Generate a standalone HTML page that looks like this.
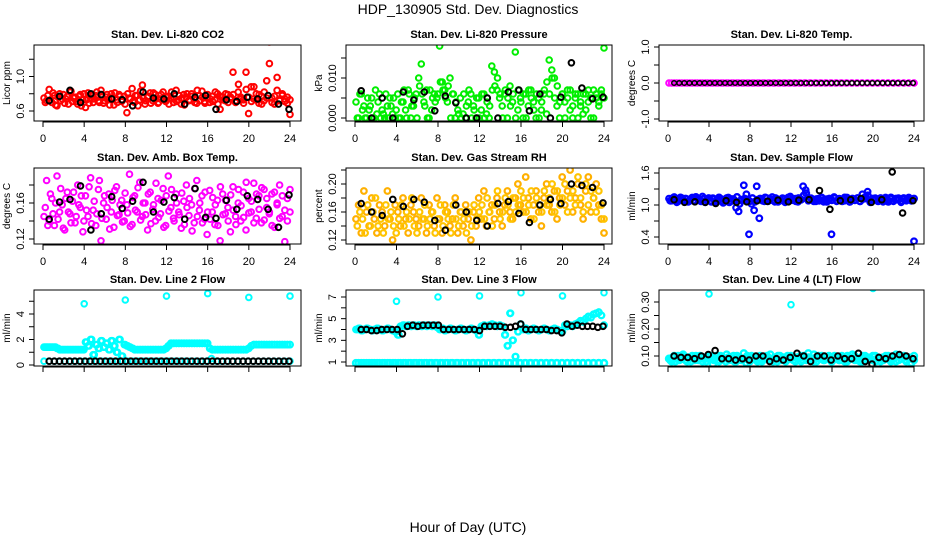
<!DOCTYPE html>
<html><head><meta charset="utf-8">
<style>
body{margin:0;background:#fff;}
svg{display:block;font-family:"Liberation Sans",Arial,sans-serif;}
</style></head>
<body>
<svg id="c" width="936" height="540" viewBox="0 0 936 540">
<rect width="936" height="540" fill="#fff"/>
<text x="468" y="14" font-size="14" text-anchor="middle">HDP_130905  Std. Dev. Diagnostics</text>
<text x="468" y="532" font-size="14" text-anchor="middle">Hour of Day (UTC)</text>
</svg>
<script>
const xTicks=[0,4,8,12,16,20,24];
// Panel 1 CO2
const co2Main=[0.75,0.72,0.85,0.70,0.78,0.66,0.80,0.74,0.69,0.77,0.82,0.71,0.76,0.68,0.79,0.73,0.64,0.81,0.75,0.70,0.78,0.72,0.84,0.69,0.76,0.74,0.80,0.67,0.73,0.79,0.71,0.77,0.58,0.75,0.86,0.70,0.78,0.73,0.90,0.68,0.76,0.81,0.72,0.79,0.69,0.74,0.82,0.71,0.77,0.75,0.70,0.84,0.73,0.68,0.79,0.76,0.72,0.80,0.74,0.69,0.78,0.83,0.71,0.75,0.70,0.77,0.73,0.80,0.62,0.76,0.72,0.79,0.74,1.05,0.70,0.82,0.76,0.73,1.05,0.57,0.88,0.74,0.80,0.69,0.77,0.72,0.95,1.40,0.75,0.68,0.99,0.73,0.78,0.71,0.76,0.56];
const co2Main2=[0.70,0.78,0.73,0.81,0.67,0.76,0.72,0.79,0.74,0.68,0.83,0.75,0.71,0.77,0.66,0.80,0.73,0.69,0.78,0.74,0.82,0.70,0.76,0.72,0.79,0.67,0.75,0.81,0.70,0.77,0.73,0.68,0.80,0.74,0.71,0.78,0.66,0.83,0.75,0.72,0.77,0.69,0.81,0.74,0.70,0.79,0.73,0.76,0.68,0.82,0.74,0.71,0.78,0.75,0.67,0.80,0.73,0.77,0.70,0.84,0.72,0.76,0.69,0.79,0.74,0.71,0.82,0.68,0.77,0.73,0.80,0.70,0.76,0.79,0.72,0.91,0.74,0.69,0.85,0.76,0.71,0.88,0.73,0.79,0.68,0.82,0.75,1.15,0.70,0.77,0.84,0.72,0.80,0.74,0.69,0.73];
const co2Black=[0.72,0.77,0.84,0.70,0.80,0.79,0.74,0.73,0.66,0.82,0.75,0.74,0.80,0.68,0.76,0.78,0.62,0.73,0.71,0.76,0.74,0.78,0.68,0.62];
// Panel 2 Pressure
const presMain=[0.004,0,0.006,0.003,0,0.002,0.005,0,0.001,0.006,0.002,0,0.003,0.005,0.001,0,0.006,0,0.004,0.002,0.007,0,0.003,0.006,0.010,0.0135,0.004,0.007,0,0.002,0.006,0.005,0.018,0.009,0.007,0.004,0.010,0.006,0,0.002,0.005,0.001,0,0.004,0.006,0.003,0,0.005,0.002,0.006,0.001,0,0.013,0.0115,0.007,0.005,0.003,0.006,0,0.008,0.004,0.0165,0.002,0.005,0,0.006,0.003,0.007,0.004,0,0.005,0.002,0.006,0.001,0.0145,0.012,0.010,0.003,0,0.006,0.004,0.007,0.002,0,0.005,0.006,0.003,0.001,0.006,0.004,0,0.007,0.005,0.003,0.006,0.0175];
const presMain2=[0,0.006,0.002,0,0.005,0.003,0,0.007,0.004,0,0.001,0.006,0,0.003,0.005,0.002,0,0.004,0.007,0,0.006,0.003,0.005,0,0.008,0.006,0.003,0,0.007,0.005,0.004,0.006,0.009,0.007,0.005,0.008,0,0.006,0.004,0.001,0,0.006,0.003,0.007,0,0.002,0.005,0,0.006,0,0.004,0.003,0.007,0.008,0.010,0.006,0,0.007,0.005,0.003,0.006,0,0.007,0.004,0.006,0,0.007,0.005,0.002,0.006,0,0.004,0.007,0.009,0.006,0.010,0.005,0.008,0.004,0.006,0,0.005,0.007,0.003,0.006,0,0.004,0.006,0.002,0.007,0.005,0,0.006,0.004,0.007,0.005];
const presBlack=[0.0068,0,0.005,0,0.0065,0.0045,0.0065,0.0018,0.0055,0.0038,0,0,0.005,0,0.0065,0.007,0.0018,0.006,0,0.0052,0.0138,0.0075,0.0048,0.0052];
// Panel 3 Temp
const tempMain=[0,0,0,0,0,0,0,0,0,0,0,0,0,0,0,0,0,0,0,0,0,0,0,0,0,0,0,0,0,0,0,0,0,0,0,0,0,0,0,0,0,0,0,0,0,0,0,0];
const tempBlack=[0,0,0,0,0,0,0,0,0,0,0,0,0,0,0,0,0,0,0,0,0,0,0,0,0,0,0,0,0,0,0,0,0,0,0,0,0,0,0,0,0,0,0,0,0,0,0,0];
// Panel 4 Amb box temp
const ambMain=[0.145,0.185,0.140,0.165,0.135,0.190,0.150,0.158,0.130,0.172,0.148,0.162,0.138,0.180,0.155,0.128,0.168,0.145,0.188,0.152,0.135,0.175,0.118,0.160,0.142,0.170,0.150,0.133,0.178,0.147,0.163,0.140,0.158,0.192,0.136,0.168,0.150,0.183,0.145,0.160,0.130,0.172,0.153,0.140,0.165,0.148,0.176,0.135,0.190,0.155,0.143,0.170,0.150,0.132,0.162,0.180,0.146,0.158,0.138,0.185,0.152,0.168,0.142,0.125,0.174,0.150,0.136,0.163,0.118,0.170,0.148,0.155,0.128,0.178,0.145,0.160,0.140,0.172,0.130,0.165,0.150,0.182,0.143,0.168,0.138,0.175,0.155,0.148,0.170,0.133,0.160,0.180,0.145,0.117,0.165,0.150];
const ambMain2=[0.155,0.135,0.170,0.148,0.160,0.142,0.176,0.132,0.165,0.150,0.138,0.172,0.145,0.158,0.168,0.140,0.152,0.178,0.137,0.162,0.148,0.185,0.143,0.168,0.155,0.131,0.163,0.174,0.146,0.158,0.139,0.171,0.149,0.134,0.166,0.152,0.177,0.141,0.160,0.147,0.170,0.137,0.158,0.182,0.144,0.163,0.133,0.168,0.151,0.175,0.140,0.160,0.147,0.171,0.136,0.155,0.165,0.129,0.176,0.145,0.160,0.138,0.172,0.150,0.142,0.166,0.158,0.135,0.178,0.147,0.163,0.140,0.169,0.152,0.136,0.175,0.157,0.144,0.183,0.149,0.162,0.138,0.170,0.153,0.177,0.141,0.165,0.150,0.135,0.172,0.158,0.143,0.168,0.152,0.140,0.175];
const ambBlack=[0.142,0.161,0.164,0.179,0.130,0.148,0.167,0.154,0.162,0.183,0.150,0.161,0.166,0.142,0.176,0.144,0.143,0.163,0.153,0.168,0.164,0.153,0.133,0.169];
// Panel 5 RH
const rhMain=[0.15,0.17,0.13,0.19,0.16,0.14,0.18,0.15,0.13,0.17,0.16,0.14,0.19,0.15,0.12,0.17,0.16,0.14,0.18,0.15,0.13,0.17,0.16,0.15,0.14,0.18,0.15,0.13,0.17,0.16,0.14,0.18,0.15,0.13,0.17,0.16,0.14,0.15,0.18,0.13,0.16,0.14,0.17,0.15,0.12,0.16,0.14,0.18,0.15,0.19,0.14,0.16,0.17,0.15,0.18,0.16,0.14,0.17,0.19,0.16,0.15,0.18,0.20,0.17,0.16,0.21,0.18,0.15,0.17,0.19,0.16,0.14,0.18,0.20,0.17,0.16,0.19,0.15,0.18,0.21,0.17,0.19,0.22,0.16,0.18,0.20,0.17,0.15,0.19,0.21,0.16,0.18,0.20,0.17,0.15,0.13];
const rhMain2=[0.14,0.16,0.15,0.13,0.17,0.14,0.16,0.18,0.14,0.15,0.13,0.17,0.15,0.16,0.14,0.13,0.15,0.17,0.14,0.16,0.15,0.18,0.14,0.13,0.16,0.15,0.17,0.14,0.15,0.16,0.13,0.15,0.17,0.14,0.16,0.15,0.13,0.17,0.15,0.14,0.16,0.15,0.13,0.16,0.14,0.17,0.15,0.16,0.17,0.15,0.18,0.16,0.14,0.17,0.19,0.15,0.16,0.18,0.17,0.15,0.18,0.16,0.17,0.19,0.18,0.16,0.17,0.19,0.15,0.18,0.17,0.16,0.19,0.17,0.18,0.20,0.16,0.19,0.17,0.18,0.20,0.16,0.18,0.19,0.17,0.21,0.18,0.16,0.20,0.17,0.19,0.18,0.16,0.19,0.17,0.15];
const rhBlack=[0.172,0.160,0.155,0.178,0.168,0.178,0.174,0.148,0.134,0.170,0.160,0.148,0.140,0.172,0.175,0.158,0.145,0.170,0.178,0.172,0.200,0.198,0.195,0.173];
// Panel 6 Sample flow
const sfMain=[1.12,1.08,1.15,1.05,1.10,1.13,1.06,1.11,1.09,1.14,1.07,1.12,1.10,1.16,1.05,1.11,1.08,1.13,1.06,1.10,1.12,1.04,1.09,1.14,1.07,1.11,0.95,0.88,1.10,1.37,1.20,0.45,1.02,0.90,1.35,0.75,1.10,1.07,1.13,1.09,1.15,1.06,1.11,1.08,1.13,1.05,1.10,1.16,1.09,1.12,1.06,1.11,1.35,1.28,1.08,1.13,1.10,1.07,1.12,1.14,1.06,1.11,1.09,0.45,1.15,1.07,1.12,1.10,1.08,1.14,1.06,1.11,1.09,1.13,1.07,1.20,1.12,1.25,1.05,1.10,1.13,1.08,1.11,1.06,1.14,1.09,1.12,1.07,1.10,1.13,1.05,1.11,1.08,1.14,1.10,0.32];
const sfMain2=[1.08,1.13,1.10,1.07,1.14,1.09,1.12,1.06,1.11,1.08,1.15,1.10,1.07,1.12,1.09,1.13,1.06,1.11,1.08,1.14,1.07,1.10,1.13,1.05,1.11,1.09,1.15,1.02,1.08,1.12,1.10,1.07,1.13,1.06,1.10,1.12,1.08,1.14,1.07,1.11,1.09,1.13,1.06,1.10,1.12,1.08,1.14,1.09,1.11,1.07,1.13,1.10,1.18,1.22,1.09,1.12,1.07,1.11,1.08,1.14,1.10,1.06,1.12,1.09,1.13,1.08,1.11,1.07,1.14,1.10,1.06,1.12,1.09,1.13,1.07,1.11,1.15,1.18,1.08,1.12,1.10,1.07,1.13,1.09,1.11,1.06,1.14,1.08,1.12,1.10,1.07,1.13,1.09,1.11,1.08,1.12];
const sfBlack=[1.10,1.05,1.06,1.05,1.03,1.08,1.05,1.06,1.08,1.07,1.09,1.06,1.09,1.10,1.27,0.92,1.08,1.10,1.12,1.05,1.10,1.62,0.85,1.08];
// Panel 7 Line 2
const l2Main=[1.4,1.4,1.4,1.4,1.4,1.3,1.2,1.2,1.2,1.2,1.2,1.2,1.2,1.2,1.2,1.2,1.8,1.5,2.0,0.8,1.6,1.3,1.9,1.4,1.7,1.2,1.9,1.5,1.0,2.0,0.7,1.6,1.5,1.4,1.3,1.2,1.2,1.2,1.2,1.2,1.2,1.2,1.2,1.2,1.2,1.2,1.2,1.3,1.5,1.7,1.7,1.7,1.7,1.7,1.7,1.7,1.7,1.7,1.7,1.7,1.7,1.7,1.7,1.7,1.3,1.2,1.2,1.2,1.2,1.2,1.2,1.2,1.2,1.2,1.2,1.2,1.2,1.2,1.2,1.3,1.5,1.6,1.6,1.6,1.6,1.6,1.6,1.6,1.6,1.6,1.6,1.6,1.6,1.6,1.6,1.6];
const l2Low=[0.3,0.3,0.3,0.3,0.3,0.3,0.3,0.3,0.3,0.3,0.3,0.3,0.3,0.3,0.3,0.3,0.3,0.3,0.3,0.3,0.3,0.3,0.3,0.3,0.3,0.3,0.3,0.3,0.3,0.3,0.3,0.3,0.5,0.3,0.3,0.3,0.3,0.3,0.3,0.3,0.3,0.3,0.3,0.3,0.3,0.3,0.3,0.3];
const l2Black=[0.3,0.3,0.3,0.3,0.3,0.3,0.3,0.3,0.3,0.3,0.3,0.3,0.3,0.3,0.3,0.3,0.3,0.3,0.3,0.3,0.3,0.3,0.3,0.3,0.3,0.3,0.3,0.3,0.3,0.3,0.3,0.3,0.3,0.3,0.3,0.3,0.3,0.3,0.3,0.3,0.3,0.3,0.3,0.3,0.3,0.3,0.3,0.3];
const l2OutHours=[4,8,12,16,20,24];
const l2Out=[4.8,5.1,5.4,5.6,5.3,5.4];
// Panel 8 Line 3
const l3Main=[4.0,4.1,3.9,4.0,4.1,4.0,3.9,4.0,4.1,4.0,3.9,4.0,4.1,4.0,3.9,3.8,3.5,4.3,4.4,4.3,4.4,4.3,4.4,4.3,4.4,4.3,4.4,4.3,4.4,4.3,4.4,4.2,4.0,4.1,3.9,4.0,4.1,4.0,3.9,4.0,4.1,4.0,3.9,4.0,4.1,4.0,3.9,3.5,4.3,4.4,4.3,4.4,4.5,4.4,4.3,4.4,4.3,3.5,2.5,5.5,3.0,1.5,3.8,4.5,4.0,4.1,3.9,4.0,4.1,4.0,3.9,4.0,4.1,4.0,3.9,4.0,4.1,4.0,3.9,3.8,4.4,4.3,4.4,4.3,4.5,4.6,4.8,4.7,5.0,5.2,5.1,5.4,5.5,5.6,5.3,4.4];
const l3Low=[0.9,0.9,0.9,0.9,0.9,0.9,0.9,0.9,0.9,0.9,0.9,0.9,0.9,0.9,0.9,0.9,0.9,0.9,0.9,0.9,0.9,0.9,0.9,0.9,0.9,0.9,0.9,0.9,0.9,0.9,0.9,0.9,0.9,0.9,0.9,0.9,0.9,0.9,0.9,0.9,0.9,0.9,0.9,0.9,0.9,0.9,0.9,0.9];
const l3Black=[4.0,4.0,3.9,3.9,4.0,4.0,4.0,4.0,3.6,4.3,4.4,4.3,4.4,4.4,4.4,4.4,4.0,4.0,4.0,4.0,4.0,4.0,4.0,3.9,4.3,4.3,4.3,4.3,4.2,4.2,4.3,4.5,4.0,4.0,4.0,4.0,4.0,3.9,3.9,3.7,4.5,4.3,4.4,4.3,4.3,4.3,4.2,4.3];
const l3OutHours=[4,8,12,16,20,24];
const l3Out=[6.6,7.0,7.1,7.4,7.1,7.4];
// Panel 9 Line 4
const l4Main=[0.09,0.08,0.10,0.09,0.085,0.10,0.095,0.08,0.09,0.10,0.085,0.09,0.10,0.08,0.095,0.09,0.10,0.07,0.09,0.085,0.10,0.09,0.08,0.095,0.09,0.10,0.08,0.09,0.085,0.11,0.075,0.09,0.10,0.09,0.085,0.095,0.08,0.09,0.10,0.085,0.09,0.095,0.08,0.10,0.09,0.085,0.10,0.09,0.095,0.08,0.09,0.10,0.085,0.09,0.11,0.09,0.08,0.095,0.10,0.09,0.085,0.09,0.10,0.08,0.09,0.095,0.085,0.10,0.09,0.08,0.095,0.09,0.10,0.085,0.09,0.08,0.10,0.095,0.09,0.085,0.10,0.09,0.08,0.095,0.09,0.10,0.085,0.09,0.08,0.10,0.09,0.095,0.085,0.09,0.075,0.10];
const l4Main2=[0.085,0.095,0.08,0.10,0.09,0.105,0.085,0.095,0.08,0.09,0.10,0.085,0.095,0.09,0.08,0.10,0.09,0.085,0.10,0.08,0.095,0.09,0.105,0.085,0.09,0.08,0.10,0.095,0.085,0.09,0.10,0.08,0.095,0.09,0.08,0.10,0.085,0.095,0.09,0.105,0.08,0.09,0.10,0.085,0.095,0.08,0.09,0.10,0.085,0.095,0.09,0.08,0.10,0.085,0.095,0.09,0.105,0.08,0.09,0.10,0.085,0.095,0.09,0.08,0.10,0.09,0.085,0.095,0.08,0.10,0.09,0.105,0.085,0.09,0.08,0.10,0.095,0.085,0.09,0.10,0.08,0.095,0.09,0.085,0.10,0.09,0.08,0.095,0.105,0.085,0.09,0.10,0.08,0.095,0.09,0.085];
const l4Black=[0.10,0.095,0.095,0.09,0.10,0.105,0.12,0.09,0.09,0.085,0.09,0.085,0.10,0.10,0.08,0.09,0.085,0.095,0.11,0.10,0.08,0.10,0.10,0.085,0.10,0.09,0.09,0.11,0.08,0.07,0.095,0.09,0.10,0.105,0.10,0.09];
const l4OutHours=[4,12,20];
const l4Out=[0.33,0.29,0.35];

const NS="http://www.w3.org/2000/svg";
const svg=document.getElementById('c');
function mk(tag,attrs,parent){const e=document.createElementNS(NS,tag);for(const k in attrs)e.setAttribute(k,attrs[k]);(parent||svg).appendChild(e);return e;}

const cols=[{l:34,r:301,x0:43,x24:290},{l:346,r:612,x0:355,x24:604},{l:659,r:924,x0:668,x24:914}];
const rows=[{t:45,b:121},{t:168,b:244},{t:290,b:366}];

function panel(cfg){
  const c=cols[cfg.col],r=rows[cfg.row];
  const g=mk('g',{});
  
  
  const xs=h=>c.x0+(c.x24-c.x0)*h/24;
  const [v1,p1,v2,p2]=cfg.ymap;
  const ys=v=>p1+(p2-p1)*(v-v1)/(v2-v1);
  const title=mk('text',{x:(c.l+c.r)/2,y:r.t-7,'font-size':11,'font-weight':'bold','text-anchor':'middle'},g);
  title.textContent=cfg.title;
  
  
  const cid='clip'+cfg.row+cfg.col;
  const cp=mk('clipPath',{id:cid},g);mk('rect',{x:c.l,y:r.t,width:c.r-c.l,height:r.b-r.t},cp);
  const pts=mk('g',{'clip-path':'url(#'+cid+')'},g);
  function series(vals,color,hourFn,sw,rad){
    const sg=mk('g',{},pts);
    
    
    vals.forEach((v,i)=>{
      const h=hourFn(i,vals.length);
      const ci=mk('circle',{cx:xs(h).toFixed(1),cy:ys(v).toFixed(1),r:rad||2.8,fill:'none',stroke:color,'stroke-width':sw||2},sg);
      
      
    });
  }
  cfg.series.forEach(s=>{
    const off=s.off||0;
    let fn;
    if(s.hours) fn=(i)=>s.hours[i];
    else if(s.black) fn=(i,n)=>0.6+i*23.3/(n-1);
    else fn=(i,n)=>0.1+off+i*(23.9-off)/(n-1);
    series(s.vals,s.color,fn,s.sw,s.r);
  });
  const bx=mk('rect',{x:c.l,y:r.t,width:c.r-c.l,height:r.b-r.t,fill:'none',stroke:'#000','stroke-width':1},g);
  
  
  const xa=mk('g',{stroke:'#000','stroke-width':1},g);
  
  
  mk('line',{x1:xs(0),x2:xs(24),y1:r.b+1,y2:r.b+1},xa);
  xTicks.forEach(t=>{
    mk('line',{x1:xs(t),x2:xs(t),y1:r.b,y2:r.b+6},xa);
    if(cfg.row<2){const tx=mk('text',{x:xs(t),y:r.b+21,'font-size':11,'text-anchor':'middle',stroke:'none'},g);tx.textContent=t;
      
      }
  });
  const ya=mk('g',{stroke:'#000','stroke-width':1},g);
  
  
  const yt=cfg.yticks;
  mk('line',{x1:c.l,x2:c.l,y1:ys(yt[0]),y2:ys(yt[yt.length-1])},ya);
  yt.forEach(t=>mk('line',{x1:c.l-5,x2:c.l,y1:ys(t),y2:ys(t)},ya));
  cfg.ylabels.forEach((lab,i)=>{
    const y=ys(cfg.ylabelVals[i]);
    const tx=mk('text',{x:c.l-10,y:y,'font-size':11,'text-anchor':'middle',transform:`rotate(-90 ${c.l-10} ${y})`},g);
    tx.textContent=lab;
    
    
  });
  const cy=(r.t+r.b)/2;
  const yl=mk('text',{x:c.l-24,y:cy,'font-size':10,'text-anchor':'middle',transform:`rotate(-90 ${c.l-24} ${cy})`},g);
  yl.textContent=cfg.ytitle;
  
  
}

panel({name:'panel-co2',col:0,row:0,title:'Stan. Dev. Li-820 CO2',ytitle:'Licor ppm',ymap:[0.6,111,1.0,76.5],yticks:[0.6,0.8,1.0,1.2],ylabels:['0.6','1.0'],ylabelVals:[0.6,1.0],
  series:[{vals:co2Main,color:'#ff0000'},{vals:co2Main2,color:'#ff0000',off:0.12},{vals:co2Black,color:'#000',black:true}]});
panel({name:'panel-pressure',col:1,row:0,title:'Stan. Dev. Li-820 Pressure',ytitle:'kPa',ymap:[0,118,0.01,78],yticks:[0,0.005,0.01,0.015],ylabels:['0.000','0.010'],ylabelVals:[0,0.01],
  series:[{vals:presMain,color:'#00ee00'},{vals:presMain2,color:'#00ee00',off:0.12},{vals:presBlack,color:'#000',black:true}]});
panel({name:'panel-temp',col:2,row:0,title:'Stan. Dev. Li-820 Temp.',ytitle:'degrees C',ymap:[1,47,-1,119],yticks:[-1,-0.5,0,0.5,1],ylabels:['-1.0','0.0','1.0'],ylabelVals:[-1,0,1],
  series:[{vals:tempMain,color:'#ff00ff'},{vals:tempMain,color:'#ff00ff',off:0.25},{vals:tempBlack,color:'#000',black:true,sw:1.5,r:2.3}]});
panel({name:'panel-ambbox',col:0,row:1,title:'Stan. Dev. Amb. Box Temp.',ytitle:'degrees C',ymap:[0.12,239,0.16,203],yticks:[0.12,0.14,0.16,0.18],ylabels:['0.12','0.16'],ylabelVals:[0.12,0.16],
  series:[{vals:ambMain,color:'#ff00ff'},{vals:ambMain2,color:'#ff00ff',off:0.12},{vals:ambBlack,color:'#000',black:true}]});
panel({name:'panel-rh',col:1,row:1,title:'Stan. Dev. Gas Stream RH',ytitle:'percent',ymap:[0.12,240,0.20,184],yticks:[0.12,0.14,0.16,0.18,0.20,0.22],ylabels:['0.12','0.16','0.20'],ylabelVals:[0.12,0.16,0.2],
  series:[{vals:rhMain,color:'#ffb000',sw:2.2},{vals:rhMain2,color:'#ffc400',sw:2.2,off:0.12},{vals:rhBlack,color:'#000',black:true}]});
panel({name:'panel-sampleflow',col:2,row:1,title:'Stan. Dev. Sample Flow',ytitle:'ml/min',ymap:[0.4,237,1.6,173],yticks:[0.4,0.7,1.0,1.3,1.6],ylabels:['0.4','1.0','1.6'],ylabelVals:[0.4,1.0,1.6],
  series:[{vals:sfMain,color:'#0000ff',sw:2.2},{vals:sfMain2,color:'#0000ff',sw:2.4,off:0.12},{vals:sfBlack,color:'#000',black:true}]});
panel({name:'panel-line2',col:0,row:2,title:'Stan. Dev. Line 2 Flow',ytitle:'ml/min',ymap:[0,365,4,314],yticks:[0,1,2,3,4,5],ylabels:['0','2','4'],ylabelVals:[0,2,4],
  series:[{vals:l2Main,color:'#00ffff',sw:2.2},{vals:l2Main,color:'#00ffff',sw:2.2,off:0.12},{vals:l2Low,color:'#00ffff'},{vals:l2Black,color:'#000',black:true},{vals:l2Out,color:'#00ffff',hours:l2OutHours}]});
panel({name:'panel-line3',col:1,row:2,title:'Stan. Dev. Line 3 Flow',ytitle:'ml/min',ymap:[1,362,7,297],yticks:[1,2,3,4,5,6,7],ylabels:['1','3','5','7'],ylabelVals:[1,3,5,7],
  series:[{vals:l3Main,color:'#00ffff',sw:2.2},{vals:l3Main,color:'#00ffff',sw:2.2,off:0.12},{vals:l3Low,color:'#00ffff',sw:2.4,r:3},{vals:l3Low,color:'#00ffff',sw:2.4,r:3,off:0.25},{vals:l3Black,color:'#000',black:true},{vals:l3Out,color:'#00ffff',hours:l3OutHours}]});
panel({name:'panel-line4',col:2,row:2,title:'Stan. Dev. Line 4 (LT) Flow',ytitle:'ml/min',ymap:[0.10,356,0.30,302],yticks:[0.10,0.15,0.20,0.25,0.30],ylabels:['0.10','0.20','0.30'],ylabelVals:[0.1,0.2,0.3],
  series:[{vals:l4Main,color:'#00ffff',sw:2.4,r:3},{vals:l4Main2,color:'#00ffff',sw:2.4,r:3,off:0.12},{vals:l4Black,color:'#000',black:true},{vals:l4Out,color:'#00ffff',hours:l4OutHours}]});
</script>
</body></html>
